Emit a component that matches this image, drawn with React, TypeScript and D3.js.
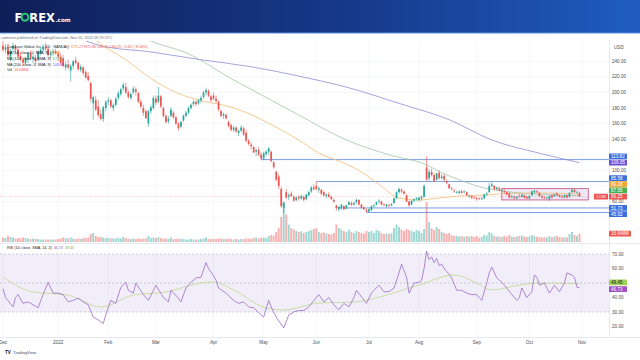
import React from "react";
import * as d3 from "d3";

// ---------- calendar ----------
const FIRST_DAY = "2021-12-01";
const STOP_DAY = "2022-11-02"; // exclusive
const HOLIDAYS = ["2021-12-24", "2022-01-17", "2022-02-21", "2022-04-15", "2022-05-30", "2022-06-20", "2022-07-04", "2022-09-05"];

// ---------- OHLC (Dec 2021 .. Oct 31 2022) ----------
const opens = [
  // Dec
  260, 255, 258, 246, 256, 258, 255, 247, 242, 238, 243, 251, 243, 244, 242, 251, 255, 259, 256, 248, 251, 253,
  // Jan
  250, 246, 244, 232, 236, 228, 234, 241, 238, 229, 232, 226, 221, 212, 186, 190, 182, 172, 166, 180,
  // Feb
  188, 190, 180, 184, 193, 198, 205, 207, 200, 193, 200, 204, 199, 188, 180, 176, 160, 176, 180,
  // Mar
  192, 188, 195, 180, 170, 163, 170, 174, 168, 160, 156, 164, 170, 174, 180, 185, 188, 186, 190, 194, 200, 202, 195,
  // Apr
  196, 192, 188, 176, 170, 171, 162, 158, 152, 155, 148, 151, 154, 148, 138, 133, 130, 124, 126, 120,
  // May
  115, 121, 124, 124, 110, 98, 92, 76, 52, 72, 66, 70, 66, 62, 66, 64, 66, 63, 68, 73, 78,
  // Jun
  80, 75, 75, 72, 67, 69, 66, 62, 55, 50, 52, 54, 51, 56, 58, 56, 59, 62, 56, 52, 49,
  // Jul
  47, 49, 54, 56, 60, 60, 56, 54, 55, 55, 58, 64, 72, 75, 73, 68, 60, 56, 61, 63,
  // Aug
  62, 64, 66, 104, 90, 98, 94, 88, 97, 90, 93, 86, 82, 77, 74, 72, 71, 73, 72, 72, 67, 67, 65,
  // Sep
  64, 64, 63, 64, 69, 72, 80, 80, 76, 77, 74, 73, 72, 70, 66, 66, 64, 67, 66, 68, 66,
  // Oct
  64, 68, 72, 73, 71, 67, 65, 64, 63, 68, 67, 70, 68, 66, 65, 68, 66, 72, 75, 72, 71.27,
];
const highs = [
  266, 262, 263, 256, 264, 262, 257, 252, 245, 246, 252, 254, 249, 248, 254, 257, 262, 264, 258, 254, 256, 256,
  253, 250, 248, 240, 242, 236, 242, 246, 240, 236, 234, 229, 226, 214, 196, 195, 190, 178, 183, 190,
  194, 192, 186, 194, 202, 206, 213, 212, 203, 200, 208, 207, 201, 191, 184, 178, 178, 184, 196,
  196, 207, 197, 182, 172, 170, 181, 176, 170, 162, 164, 172, 176, 182, 186, 190, 190, 192, 196, 202, 206, 204, 197,
  200, 196, 190, 178, 174, 173, 164, 160, 157, 156, 152, 158, 156, 152, 140, 136, 131, 128, 130, 123,
  124, 126, 130, 125, 112, 100, 95, 79, 60, 76, 71, 73, 68, 67, 68, 69, 68, 70, 74, 80, 82,
  85.58, 79, 76, 74, 70, 72, 68, 64, 56, 54, 57, 55, 56, 61, 60, 60, 64, 63, 57, 54, 51,
  51, 55, 57, 60, 63, 61, 58, 57, 57, 58, 65, 73, 78, 77, 74, 69, 61, 62, 64, 66,
  66, 68, 82, 118, 101, 102, 96, 97, 100, 95, 95, 88, 83, 79, 76, 74, 74, 75, 74, 73, 69, 68, 67,
  66, 65, 66, 70, 72, 84, 86, 81, 79, 79, 76, 76, 73, 72, 68, 68, 67, 70, 70, 69, 67,
  68, 74, 75, 75, 72, 68, 67, 66, 68, 69, 70, 72, 69, 68, 69, 69, 72, 77, 77, 74, 71.8,
];
const lows = [
  252, 250, 244, 240, 252, 250, 244, 240, 234, 236, 238, 242, 238, 236, 240, 248, 252, 253, 246, 244, 247, 249,
  240, 236, 232, 228, 230, 214, 230, 236, 228, 226, 222, 218, 214, 188, 165, 176, 168, 164, 162, 176,
  184, 180, 176, 182, 190, 195, 202, 198, 192, 190, 198, 196, 186, 180, 170, 166, 156, 172, 178,
  184, 186, 180, 168, 160, 160, 168, 166, 158, 151, 154, 162, 168, 172, 178, 182, 182, 184, 186, 192, 196, 194, 188,
  190, 186, 176, 168, 166, 165, 155, 150, 149, 148, 144, 149, 144, 136, 132, 127, 122, 118, 118, 113,
  113, 118, 120, 110, 102, 86, 76, 52, 45, 63, 62, 66, 60, 60, 61, 62, 60, 62, 66, 71, 74,
  74, 71, 68, 66, 64, 65, 62, 58, 48, 47, 49, 49, 50, 55, 54, 55, 57, 55, 51, 49, 45.92,
  46, 48, 52, 55, 57, 55, 54, 52, 53, 54, 57, 63, 70, 71, 69, 59, 53, 55, 59, 61,
  60, 61, 65, 86, 86, 92, 85, 87, 88, 89, 86, 82, 76, 74, 71, 70, 69, 70, 70, 67, 65, 63, 63,
  61, 62, 62, 63, 67, 71, 78, 74, 74, 73, 72, 70, 68, 64, 64, 63, 63, 65, 65, 64, 63,
  63, 67, 70, 71, 66, 64, 63, 63, 61, 64, 66, 67, 65, 64, 64, 64, 65, 70, 71, 70, 66.15,
];
const closes = [
  255, 258, 248, 253, 260, 255, 246, 243, 238, 244, 250, 244, 246, 240, 252, 255, 259, 256, 248, 251, 253, 250,
  246, 238, 234, 236, 232, 234, 240, 238, 230, 233, 225, 219, 216, 192, 194, 178, 171, 166, 181, 188,
  190, 182, 184, 192, 199, 204, 210, 200, 194, 198, 205, 201, 188, 182, 174, 167, 176, 181, 193,
  187, 196, 182, 170, 162, 166, 178, 168, 160, 154, 162, 170, 174, 180, 184, 188, 185, 190, 193, 200, 203, 196, 190,
  192, 189, 178, 170, 172, 167, 157, 152, 155, 150, 151, 155, 146, 138, 134, 131, 123, 126, 120, 115,
  122, 124, 128, 112, 104, 88, 80, 54, 58, 65, 68, 67, 61, 65, 64, 67, 62, 69, 72, 78, 76,
  76, 77, 70, 68, 69, 66, 63, 60, 51.73, 53, 56, 50, 55, 59, 56, 58, 62, 56, 52, 50, 47,
  50, 54, 55, 59, 61, 56, 55, 56, 54, 57, 64, 72, 76, 73, 70, 60, 55, 61, 63, 64,
  65, 66, 80, 88, 98, 94, 86, 96, 90, 92, 88, 84, 77, 76, 73, 72, 73, 71, 73, 68, 67, 65, 64,
  63, 63, 64, 69, 70, 80, 82, 76, 78, 74, 75, 72, 69, 65, 67, 64, 66, 66, 69, 65, 64,
  67, 73, 74, 72, 67, 65, 64, 65, 67, 65, 69, 68, 66, 65, 68, 65, 71, 75, 72, 72.07, 66.25,
];
// volume, millions
const volumes = [
  9, 8, 12, 10, 9, 7, 8, 7, 9, 8, 7, 6, 7, 6, 6, 5, 5, 5, 5, 5, 5, 5,
  6, 7, 9, 8, 7, 9, 7, 6, 7, 6, 8, 8, 9, 16, 18, 12, 10, 10, 9, 8,
  8, 7, 7, 7, 8, 7, 10, 8, 7, 6, 7, 6, 7, 6, 7, 7, 12, 8, 9,
  8, 10, 8, 7, 7, 6, 9, 6, 6, 7, 6, 6, 5, 5, 6, 5, 5, 5, 6, 7, 9, 6, 6,
  6, 6, 7, 7, 6, 6, 7, 6, 5, 6, 5, 6, 6, 7, 7, 6, 8, 9, 7, 9,
  9, 8, 12, 14, 13, 20, 28, 50, 80, 55, 35, 28, 25, 22, 20, 21, 18, 20, 22, 24, 26,
  28, 20, 18, 19, 17, 16, 15, 18, 35, 28, 25, 22, 20, 25, 20, 18, 22, 20, 18, 17, 22,
  20, 22, 18, 24, 22, 18, 16, 17, 16, 18, 28, 35, 30, 25, 22, 26, 24, 22, 20, 24,
  22, 18, 26, 80, 40, 28, 24, 30, 26, 20, 18, 16, 18, 14, 12, 12, 11, 12, 10, 12, 11, 12, 10,
  12, 9, 10, 14, 13, 20, 17, 12, 11, 11, 10, 12, 11, 14, 11, 10, 11, 12, 13, 11, 10,
  11, 14, 12, 11, 10, 9, 10, 9, 12, 10, 11, 12, 10, 9, 10, 9, 16, 20, 14, 12, 16.648,
];

// ---------- moving averages: [bar index, value] ----------
const ma50: [number, number][] = [
  [35, 272], [39, 262], [49, 242], [59, 218], [69, 200], [81, 188], [89, 183], [98, 173], [108, 157], [118, 139],
  [126, 122], [134, 112], [142, 100], [150, 82], [158, 64.5], [166, 62], [174, 64.5], [182, 67], [190, 68], [198, 69.6],
  [214, 71], [230, 69.28],
];
const ma100: [number, number][] = [
  [55, 272], [59, 266], [73, 251], [92, 216], [103, 197], [118, 171], [137, 139], [154, 120], [169, 107], [175, 97],
  [182, 88], [190, 79], [198, 74], [210, 70], [230, 67.56],
];
const ma200: [number, number][] = [
  [30, 270], [39, 260], [59, 252], [79, 242], [99, 233], [118, 221], [138, 206], [158, 186], [178, 165], [195, 139],
  [214, 122], [230, 109.85],
];

// ---------- RSI: [bar index, value] ----------
const rsi: [number, number][] = [
  [0, 46], [1, 40], [4, 33.5], [5, 40], [6, 42], [8, 36], [10, 37], [12, 35], [14, 33], [16, 42], [18, 50.5], [20, 43],
  [22, 43], [24, 42], [26, 37], [28, 38], [30, 39.5], [32, 37], [34, 35], [36, 26.5], [38, 24.5], [40, 22], [41, 28],
  [43, 38], [45, 36], [47, 47], [49, 50.5], [50, 45], [52, 43], [53, 50], [56, 42], [58, 38], [60, 45], [61, 48.5],
  [64, 40], [66, 37], [67, 45], [70, 39.5], [71, 37], [73, 46.5], [75, 50.5], [77, 53.5], [79, 54], [80, 59], [81, 64],
  [82, 60], [84, 55], [85, 52], [86, 46.5], [89, 43], [92, 38], [94, 36], [96, 37], [98, 33.5], [100, 33], [102, 29.5],
  [104, 26.5], [106, 38], [107, 33.5], [109, 26.5], [112, 19], [114, 28], [116, 30], [118, 31], [120, 31], [122, 33.5],
  [125, 40], [126, 42], [128, 37], [130, 40], [132, 35], [134, 31.5], [136, 36], [138, 33.5], [140, 40], [141, 45],
  [143, 40.5], [145, 36], [147, 43], [148, 45], [150, 48.5], [152, 44], [154, 44], [156, 46.5], [158, 57], [159, 63],
  [161, 54], [162, 43], [164, 50], [166, 50.5], [167, 52], [168, 60], [169, 72], [170, 66], [171, 68], [172, 64],
  [173, 67], [174, 62], [175, 63], [176, 60], [177, 58], [178, 56], [179, 53.5], [181, 45], [183, 45], [185, 43],
  [187, 42], [189, 42], [191, 38], [193, 50], [194, 57], [195, 61], [197, 53.5], [199, 50.5], [201, 46.5], [203, 42],
  [205, 38], [206, 40], [207, 46.5], [209, 40], [211, 44], [212, 55.5], [213, 54], [214, 48.5], [216, 50], [218, 43],
  [220, 48.5], [222, 44], [224, 50], [225, 57], [227, 55.5], [228, 54], [229, 47], [230, 46.73],
];
const rsiSignal: [number, number][] = [
  [0, 54], [12, 43.8], [26, 41.7], [39, 33.4], [52, 41.7], [65, 43.8], [79, 50], [84, 50.7], [92, 45.2], [105, 32.8],
  [112, 31.4], [126, 36.2], [140, 36.9], [153, 41.7], [166, 48.6], [180, 55.5], [189, 50], [195, 45.2], [206, 48.6],
  [214, 50], [230, 49.45],
];

// ---------- drawings ----------
const hLevels = [113.82, 85.58, 51.73, 45.92];
const hStarts = ["2022-04-29", "2022-06-01", "2022-06-13", "2022-06-30"];
const boxStart = "2022-09-16";
const boxTop = 76.5;
const boxBottom = 62;
const boxExtraBars = 2.5;

const priceTicks = [40, 60, 80, 100, 120, 140, 160, 180, 200, 220, 240];
const rsiTicks = [20, 30, 40, 50, 60, 70];

const FONT = "'Liberation Sans', Arial, sans-serif";
const UP = "#26a69a";
const DOWN = "#ef5350";

export default function App() {
  const fmt = d3.utcFormat("%Y-%m-%d");
  const days = d3
    .utcDays(new Date(FIRST_DAY + "T00:00:00Z"), new Date(STOP_DAY + "T00:00:00Z"))
    .filter((d) => {
      const w = d.getUTCDay();
      return w !== 0 && w !== 6 && !HOLIDAYS.includes(fmt(d));
    });
  const dayIdx = (s: string) => days.findIndex((d) => fmt(d) === s);

  const x = d3.scaleLinear().domain([0, days.length - 1]).range([3, 582]);
  const y = d3.scaleLinear().domain([60, 240]).range([201.5, 61.3]);
  const yv = d3.scaleLinear().domain([0, 84]).range([242, 200]);
  const yr = d3.scaleLinear().domain([30, 70]).range([312, 254]);

  const PANE_L = 0, PANE_R = 609;
  const MAIN_T = 41, MAIN_B = 243;
  const RSI_T = 244, RSI_B = 337;

  const maLine = d3.line<[number, number]>().x((d) => x(d[0])).y((d) => y(d[1])).curve(d3.curveMonotoneX);
  const rsiLine = d3.line<[number, number]>().x((d) => x(d[0])).y((d) => yr(d[1]));
  const sigLine = d3.line<[number, number]>().x((d) => x(d[0])).y((d) => yr(d[1])).curve(d3.curveMonotoneX);

  // month ticks
  const monthTicks: { i: number; label: string }[] = [];
  days.forEach((d, i) => {
    if (i === 0 || d.getUTCMonth() !== days[i - 1].getUTCMonth()) {
      monthTicks.push({ i, label: d.getUTCMonth() === 0 ? d3.utcFormat("%Y")(d) : d3.utcFormat("%b")(d) });
    }
  });

  const last = closes.length - 1;
  const lastPrice = closes[last];

  // price axis marker labels with collision handling
  type Lab = { v: number; bg: string; fg: string; y: number; anchor?: boolean; text: string };
  const labs: Lab[] = [
    { v: hLevels[0], bg: "#3b6fe0", fg: "#fff", y: 0, text: hLevels[0].toFixed(2) },
    { v: ma200[ma200.length - 1][1], bg: "#6a4fd8", fg: "#fff", y: 0, text: ma200[ma200.length - 1][1].toFixed(2) },
    { v: hLevels[1], bg: "#3b6fe0", fg: "#fff", y: 0, text: hLevels[1].toFixed(2) },
    { v: ma50[ma50.length - 1][1], bg: "#f3a534", fg: "#fff", y: 0, text: ma50[ma50.length - 1][1].toFixed(2) },
    { v: ma100[ma100.length - 1][1], bg: "#4caf50", fg: "#fff", y: 0, text: ma100[ma100.length - 1][1].toFixed(2) },
    { v: lastPrice, bg: DOWN, fg: "#fff", y: 0, anchor: true, text: lastPrice.toFixed(2) },
    { v: hLevels[2], bg: "#3b6fe0", fg: "#fff", y: 0, text: hLevels[2].toFixed(2) },
    { v: hLevels[3], bg: "#3b6fe0", fg: "#fff", y: 0, text: hLevels[3].toFixed(2) },
  ];
  labs.forEach((l) => (l.y = y(l.v)));
  labs.sort((a, b) => a.y - b.y);
  const GAP = 6.2;
  const ai = labs.findIndex((l) => l.anchor);
  for (let k = ai + 1; k < labs.length; k++) labs[k].y = Math.max(labs[k].y, labs[k - 1].y + GAP);
  for (let k = ai - 1; k >= 0; k--) labs[k].y = Math.min(labs[k].y, labs[k + 1].y - GAP);
  const volLabelY = yv(volumes[last]);
  const occupied = [...labs.map((l) => l.y), volLabelY];
  const shownPriceTicks = priceTicks.filter((t) => occupied.every((o) => Math.abs(o - y(t)) > 4.6));

  // RSI labels
  const rsiLabs = [
    { v: rsiSignal[rsiSignal.length - 1][1], bg: "#9fd356", fg: "#131722", y: 0 },
    { v: rsi[rsi.length - 1][1], bg: "#a04fc6", fg: "#fff", y: 0 },
  ];
  rsiLabs.forEach((l) => (l.y = yr(l.v)));
  rsiLabs.sort((a, b) => a.y - b.y);
  const mid = (rsiLabs[0].y + rsiLabs[1].y) / 2;
  if (rsiLabs[1].y - rsiLabs[0].y < 6.6) {
    rsiLabs[0].y = mid - 3.3;
    rsiLabs[1].y = mid + 3.3;
  }
  const shownRsiTicks = rsiTicks.filter((t) => rsiLabs.every((l) => Math.abs(l.y - yr(t)) > 4.6));

  const bodyW = 1.7;
  const volW = 1.9;

  const legendFs = 3.7;
  const axisFs = 4.6;

  return (
    <svg
      width={640}
      height={360}
      viewBox="0 0 640 360"
      style={{ position: "absolute", left: 0, top: 0, background: "#fff" }}
      fontFamily={FONT}
    >
      <defs>
        <linearGradient id="hdr" x1="0" x2="1" y1="0" y2="0">
          <stop offset="0" stopColor="#0f1e57" />
          <stop offset="0.55" stopColor="#16398a" />
          <stop offset="1" stopColor="#1f5cc0" />
        </linearGradient>
        <clipPath id="mainClip">
          <rect x={PANE_L} y={MAIN_T} width={PANE_R - PANE_L} height={MAIN_B - MAIN_T} />
        </clipPath>
        <clipPath id="rsiClip">
          <rect x={PANE_L} y={RSI_T} width={PANE_R - PANE_L} height={RSI_B - RSI_T} />
        </clipPath>
      </defs>

      {/* header */}
      <rect x={0} y={0} width={640} height={33} fill="url(#hdr)" />
      <rect x={0} y={32.5} width={640} height={1} fill="#5b8fe0" />
      <text x={14.5} y={21.5} fontSize={11.5} fontWeight={700} fill="#fff" fontFamily="'DejaVu Sans', sans-serif">F</text>
      <circle cx={25} cy={17.3} r={3.5} fill="none" stroke="#2fbf71" strokeWidth={2.1} />
      <text x={29.3} y={21.5} fontSize={11.5} fontWeight={700} fill="#fff" fontFamily="'DejaVu Sans', sans-serif">REX</text>
      <text x={55.5} y={21.5} fontSize={5.6} fontWeight={700} fill="#fff" fontFamily="'DejaVu Sans', sans-serif">.com</text>

      {/* publisher line */}
      <text x={1} y={39} fontSize={3.8} fill="#6a6d78">cameron published on TradingView.com, Nov 01, 2022 09:29 UTC</text>

      {/* gridlines */}
      {monthTicks.map((t) => (
        <g key={"vg" + t.i}>
          <line x1={x(t.i)} x2={x(t.i)} y1={MAIN_T} y2={MAIN_B} stroke="#eff1f5" strokeWidth={0.6} />
          <line x1={x(t.i)} x2={x(t.i)} y1={RSI_T} y2={RSI_B} stroke="#eff1f5" strokeWidth={0.6} />
        </g>
      ))}
      {priceTicks.map((t) => (
        <line key={"hg" + t} x1={PANE_L} x2={PANE_R} y1={y(t)} y2={y(t)} stroke="#eff1f5" strokeWidth={0.6} />
      ))}

      {/* main pane */}
      <g clipPath="url(#mainClip)">
        {/* volume */}
        {volumes.map((v, i) => (
          <rect
            key={"v" + i}
            x={x(i) - volW / 2}
            y={yv(v)}
            width={volW}
            height={yv(0) - yv(v)}
            fill={closes[i] >= opens[i] ? UP : DOWN}
            opacity={0.45}
          />
        ))}

        {/* range box */}
        <rect
          x={x(dayIdx(boxStart))}
          y={y(boxTop)}
          width={x(days.length - 1 + boxExtraBars) - x(dayIdx(boxStart))}
          height={y(boxBottom) - y(boxTop)}
          fill="#9575cd"
          fillOpacity={0.16}
          stroke="#c64a78"
          strokeWidth={0.8}
        />

        {/* horizontal levels */}
        {hLevels.map((lv, k) => (
          <line
            key={"hl" + k}
            x1={x(dayIdx(hStarts[k]))}
            x2={PANE_R}
            y1={y(lv)}
            y2={y(lv)}
            stroke="#5a88dc"
            strokeWidth={0.8}
          />
        ))}

        {/* last price line */}
        <line x1={PANE_L} x2={PANE_R} y1={y(lastPrice)} y2={y(lastPrice)} stroke={DOWN} strokeOpacity={0.6} strokeWidth={0.5} strokeDasharray="1 1.5" />

        {/* moving averages */}
        <path d={maLine(ma200) || ""} fill="none" stroke="#8d88d2" strokeWidth={0.9} opacity={0.85} />
        <path d={maLine(ma100) || ""} fill="none" stroke="#9fc39c" strokeWidth={0.9} opacity={0.85} />
        <path d={maLine(ma50) || ""} fill="none" stroke="#f0c27e" strokeWidth={0.9} opacity={0.95} />

        {/* candles */}
        {opens.map((o, i) => {
          const c = closes[i];
          const col = c >= o ? UP : DOWN;
          const top = y(Math.max(o, c));
          const bot = y(Math.min(o, c));
          return (
            <g key={"c" + i}>
              <line x1={x(i)} x2={x(i)} y1={y(highs[i])} y2={y(lows[i])} stroke={col} strokeWidth={0.6} />
              <rect x={x(i) - bodyW / 2} y={top} width={bodyW} height={Math.max(0.6, bot - top)} fill={col} />
            </g>
          );
        })}
      </g>

      {/* legend */}
      <g fontSize={legendFs}>
        <text x={7} y={48}>
          <tspan fill="#131722">Coinbase Global, Inc. · 1D · NASDAQ</tspan>
          <tspan fill={DOWN} dx={2}>O71.27 H71.80 L66.15 C66.25 −5.82 (−8.08%)</tspan>
        </text>
        <text x={7} y={54}>
          <tspan fill="#131722">MA (50, close, 0, SMA, 9)</tspan>
          <tspan fill="#f39c12" dx={2}>69.28</tspan>
        </text>
        <text x={7} y={59.8}>
          <tspan fill="#131722">MA (100, close, 0, SMA, 9)</tspan>
          <tspan fill="#4caf50" dx={2}>67.56</tspan>
        </text>
        <text x={7} y={65.6}>
          <tspan fill="#131722">MA (200, close, 0, SMA, 9)</tspan>
          <tspan fill="#6a4fd8" dx={2}>109.85</tspan>
        </text>
        <text x={7} y={71.4}>
          <tspan fill="#131722">Vol</tspan>
          <tspan fill={DOWN} dx={2}>16.648M</tspan>
        </text>
      </g>

      {/* RSI pane */}
      <line x1={0} x2={640} y1={RSI_T - 0.5} y2={RSI_T - 0.5} stroke="#e0e3eb" strokeWidth={0.8} />
      <rect x={PANE_L} y={yr(70)} width={PANE_R - PANE_L} height={yr(30) - yr(70)} fill="#7e57c2" fillOpacity={0.1} />
      {[70, 50, 30].map((t) => (
        <line key={"rl" + t} x1={PANE_L} x2={PANE_R} y1={yr(t)} y2={yr(t)} stroke="#a3a0b5" strokeWidth={0.5} strokeDasharray="2 2" />
      ))}
      <g clipPath="url(#rsiClip)">
        <path d={sigLine(rsiSignal) || ""} fill="none" stroke="#bcd98f" strokeWidth={0.8} />
        <path d={rsiLine(rsi) || ""} fill="none" stroke="#a173c9" strokeWidth={0.85} />
      </g>
      <text x={7} y={249} fontSize={legendFs}>
        <tspan fill="#131722">RSI (14, close, SMA, 14, 2)</tspan>
        <tspan fill="#a04fc6" dx={2}>46.73</tspan>
        <tspan fill="#7cb342" dx={2}>49.45</tspan>
      </text>

      {/* time axis */}
      <line x1={0} x2={640} y1={RSI_B + 0.5} y2={RSI_B + 0.5} stroke="#e0e3eb" strokeWidth={0.8} />
      {monthTicks.map((t) => (
        <text key={"tl" + t.i} x={x(t.i)} y={343.5} fontSize={axisFs} textAnchor="middle" fill="#4a4d57">
          {t.label}
        </text>
      ))}
      <text x={5} y={354} fontSize={4.6} fontWeight={700} fill="#131722">TV</text>
      <text x={13} y={354} fontSize={4.2} fill="#4a4d57">TradingView</text>

      {/* price axis */}
      <line x1={PANE_R + 0.5} x2={PANE_R + 0.5} y1={MAIN_T - 1} y2={RSI_B} stroke="#e0e3eb" strokeWidth={0.8} />
      <text x={614} y={49} fontSize={axisFs} fill="#4a4d57">USD</text>
      {shownPriceTicks.map((t) => (
        <text key={"pt" + t} x={612} y={y(t) + 1.6} fontSize={axisFs} fill="#4a4d57">
          {t.toFixed(2)}
        </text>
      ))}
      {labs.map((l, k) => (
        <g key={"lab" + k}>
          {l.anchor && (
            <g>
              <rect x={594} y={l.y - 2.9} width={14} height={5.8} fill={l.bg} rx={0.6} />
              <text x={601} y={l.y + 1.6} fontSize={3.8} fill="#fff" textAnchor="middle">COIN</text>
            </g>
          )}
          <rect x={609} y={l.y - 2.9} width={18} height={5.8} fill={l.bg} rx={0.6} />
          <text x={611} y={l.y + 1.6} fontSize={axisFs} fill={l.fg}>{l.text}</text>
        </g>
      ))}
      <rect x={609} y={volLabelY - 2.9} width={22} height={5.8} fill={DOWN} rx={0.6} />
      <text x={611} y={volLabelY + 1.6} fontSize={axisFs} fill="#fff">16.648M</text>

      {shownRsiTicks.map((t) => (
        <text key={"rt" + t} x={612} y={yr(t) + 1.6} fontSize={axisFs} fill="#4a4d57">
          {t.toFixed(2)}
        </text>
      ))}
      {rsiLabs.map((l, k) => (
        <g key={"rlab" + k}>
          <rect x={609} y={l.y - 2.9} width={18} height={5.8} fill={l.bg} rx={0.6} />
          <text x={611} y={l.y + 1.6} fontSize={axisFs} fill={l.fg}>{l.v.toFixed(2)}</text>
        </g>
      ))}
    </svg>
  );
}
